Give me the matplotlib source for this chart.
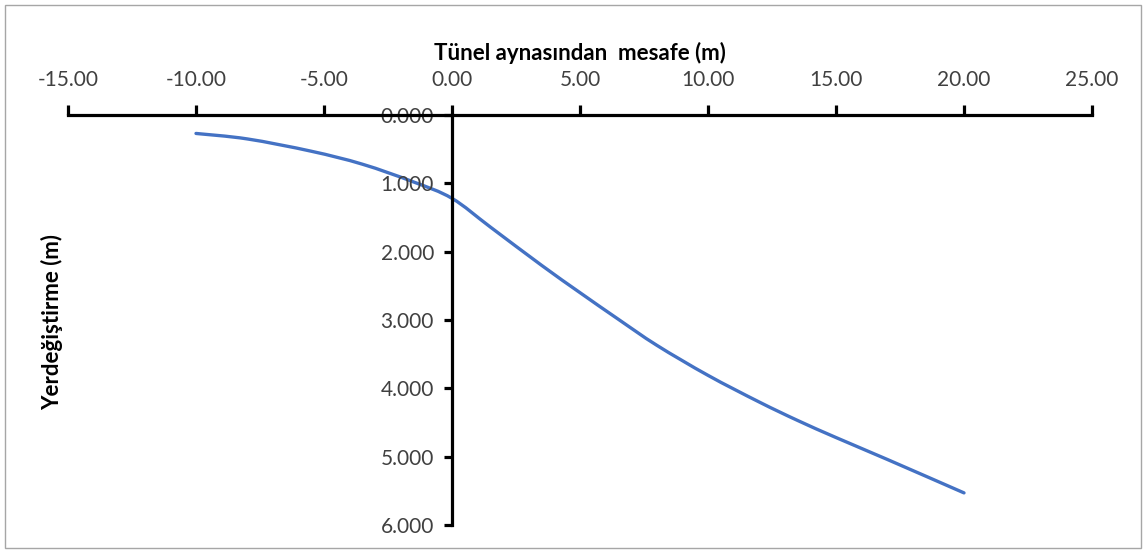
import matplotlib
matplotlib.use("Agg")
import matplotlib.pyplot as plt
from matplotlib.patches import Rectangle, PathPatch
from matplotlib.path import Path

# Data
distance_m = [-10, -8, -5.5, -3.5, -1.5, 0, 1.5, 3.5, 5, 6.5, 8, 10, 12, 13.5, 15, 17, 20]
displacement_m = [0.27, 0.35, 0.53, 0.72, 0.98, 1.22, 1.64, 2.20, 2.60, 2.99, 3.37, 3.81,
                  4.20, 4.47, 4.72, 5.04, 5.53]

x_ticks = [-15, -10, -5, 0, 5, 10, 15, 20, 25]
y_ticks = [0, 1, 2, 3, 4, 5, 6]

x_title = "Tünel aynasından  mesafe (m)"
y_title = "Yerdeğiştirme (m)"

plt.rcParams['font.family'] = ['Lato', 'DejaVu Sans']

W, H = 1147, 553
fig = plt.figure(figsize=(W / 100, H / 100), dpi=100)
fig.patches.append(Rectangle((5 / W, 5 / H), 1136 / W, 543 / H, transform=fig.transFigure,
                             fill=False, edgecolor='#a6a6a6', linewidth=1.0))

ax = fig.add_axes([68 / W, 1 - 525 / H, 1024 / W, 410 / H])


def smooth_path(xs, ys):
    # Excel-style smoothed line: Catmull-Rom segments as cubic Beziers
    pts = list(zip(xs, ys))
    n = len(pts)
    verts = [pts[0]]
    codes = [Path.MOVETO]
    for i in range(n - 1):
        p0 = pts[i - 1] if i > 0 else pts[i]
        p1 = pts[i]
        p2 = pts[i + 1]
        p3 = pts[i + 2] if i + 2 < n else pts[i + 1]
        c1 = (p1[0] + (p2[0] - p0[0]) / 6, p1[1] + (p2[1] - p0[1]) / 6)
        c2 = (p2[0] - (p3[0] - p1[0]) / 6, p2[1] - (p3[1] - p1[1]) / 6)
        verts += [c1, c2, p2]
        codes += [Path.CURVE4] * 3
    return Path(verts, codes)


ax.add_patch(PathPatch(smooth_path(distance_m, displacement_m), facecolor='none',
                       edgecolor='#4472C4', linewidth=2.4, capstyle='round',
                       transform=ax.transData))

ax.set_xlim(-15, 25)
ax.set_ylim(6, 0)

ax.set_xticks(x_ticks)
ax.set_xticklabels([f"{v:.2f}" for v in x_ticks])
ax.set_yticks(y_ticks)
ax.set_yticklabels([f"{v:.3f}" for v in y_ticks])

for s in ['right', 'bottom']:
    ax.spines[s].set_visible(False)
ax.spines['top'].set_linewidth(2.3)
ax.spines['left'].set_linewidth(2.3)
ax.spines['left'].set_position(('data', 0))
ax.spines['left'].set_bounds(0, 6)

ax.xaxis.set_ticks_position('top')
ax.xaxis.set_label_position('top')
ax.tick_params(axis='x', direction='out', length=7, width=2.3, pad=11,
               labelsize=15, colors='#000000', labelcolor='#404040')
ax.tick_params(axis='y', direction='out', length=6, width=2.3, pad=7,
               labelsize=15, colors='#000000', labelcolor='#404040')

ax.set_xlabel(x_title, fontsize=16, fontweight='bold', labelpad=7)
fig.text(52 / W, 1 - 322 / H, y_title, rotation=90, fontsize=16, fontweight='bold',
         ha='center', va='center')

ax.patch.set_alpha(0)
fig.savefig("out.png", dpi=100)
